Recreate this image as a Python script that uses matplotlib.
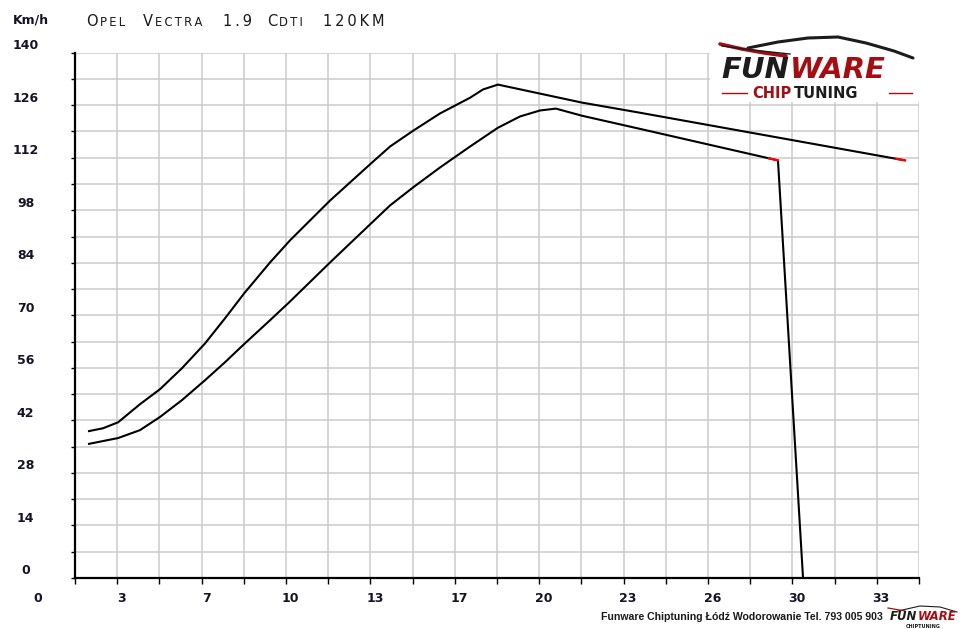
import numpy as np
import matplotlib
matplotlib.use('Agg')
import matplotlib.pyplot as plt
import matplotlib.transforms as mtransforms
from matplotlib.patches import Rectangle
from matplotlib.lines import Line2D
from matplotlib.text import Annotation

title_words = ['OPEL', 'VECTRA', '1.9', 'CDTI', '120KM']
title_word_px = [86, 143, 223, 267, 323]
y_unit = 'Km/h'
footer = 'Funware Chiptuning Łódź Wodorowanie Tel. 793 005 903'

# axis layout (grid every 5/3 s and every 7 km/h)
x_min, x_max, x_step = 5 / 3, 35.0, 5 / 3
y_max, y_step = 140, 7
x_label_pos = [0, 10 / 3, 20 / 3, 10, 40 / 3, 50 / 3, 20, 70 / 3, 80 / 3, 30, 100 / 3]
x_labels = ['0', '3', '7', '10', '13', '17', '20', '23', '26', '30', '33']
y_labels = [0, 14, 28, 42, 56, 70, 84, 98, 112, 126, 140]

# curve A (upper)
upper_x = [2.18, 2.77, 3.37, 4.23, 5.02, 5.89, 6.80, 7.59, 8.34, 9.37, 10.16,
           11.74, 13.36, 14.11, 15.02, 16.08, 17.27, 17.78, 18.37, 20.03, 21.69,
           23.98, 34.45]
upper_kmh = [39.1, 39.9, 41.5, 46.3, 50.3, 55.9, 62.5, 69.2, 75.8, 84.1, 90.0,
             100.6, 110.5, 115.0, 119.2, 123.8, 128.0, 130.2, 131.5, 129.1, 126.7,
             124.0, 111.3]

# curve B (lower), ends with the drop to zero
lower_x = [2.18, 3.37, 4.23, 5.02, 5.89, 6.80, 7.59, 8.34, 9.37, 10.16, 11.74,
           13.36, 14.11, 15.02, 16.08, 17.27, 18.37, 19.24, 20.03, 20.66, 21.69,
           23.98, 29.43, 30.42]
lower_kmh = [35.7, 37.3, 39.4, 42.9, 47.4, 52.7, 57.5, 62.3, 68.7, 73.7, 84.1,
             94.5, 99.3, 104.1, 109.4, 115.0, 120.0, 123.0, 124.6, 125.1, 123.2,
             119.7, 111.3, 0.0]

W, H = 960, 629
fig = plt.figure(figsize=(W / 100, H / 100), dpi=100)
fig.patch.set_facecolor('white')


def px(x, y):
    return x / W, 1 - y / H


def after(prev, text, gap=1.5, **kw):
    # text placed right after another text artist, bottoms aligned
    a = Annotation(text, xy=(1.0, 0.0), xycoords=prev, xytext=(gap, 0),
                   textcoords='offset points', ha='left', va='bottom',
                   annotation_clip=False, **kw)
    fig.add_artist(a)
    a.set_zorder(3)
    return a


ax = fig.add_axes([75 / W, 1 - 578 / H, (919 - 75) / W, (578 - 52.7) / H])
ax.set_xlim(x_min, x_max)
ax.set_ylim(0, y_max)

ax.set_xticks(np.arange(x_min, x_max + 0.01, x_step))
ax.set_yticks(np.arange(0, y_max + 0.1, y_step))
ax.grid(True, color='#cccccc', lw=1.1)
ax.set_axisbelow(True)
ax.tick_params(axis='x', direction='out', length=4, width=1, color='black', labelbottom=False)
ax.tick_params(axis='y', direction='out', length=3, width=1, color='black', labelleft=False)
for s in ['top', 'right']:
    ax.spines[s].set_visible(False)
for s in ['left', 'bottom']:
    ax.spines[s].set_linewidth(1.6)
    ax.spines[s].set_color('black')

ax.plot(upper_x, upper_kmh, color='black', lw=1.5, solid_capstyle='butt', zorder=3)
ax.plot(lower_x, lower_kmh, color='black', lw=1.5, solid_capstyle='butt', zorder=3)


# red tips at the end of the sloping parts
def red_tip(xs, ys, i, dx=0.35):
    x1 = xs[i]
    x0 = x1 - dx
    y0 = np.interp(x0, [xs[i - 1], xs[i]], [ys[i - 1], ys[i]])
    ax.plot([x0, x1], [y0, ys[i]], color='red', lw=1.6, zorder=4)


red_tip(upper_x, upper_kmh, len(upper_x) - 1)
red_tip(lower_x, lower_kmh, len(lower_x) - 2)

lab_color = '#141428'
tx = mtransforms.blended_transform_factory(
    mtransforms.offset_copy(ax.transData, fig=fig, x=4.5, units='dots'),
    mtransforms.offset_copy(ax.transAxes, fig=fig, y=-21, units='dots'))
for p, t in zip(x_label_pos, x_labels):
    ax.text(p, 0, t, transform=tx, ha='center', va='center', fontsize=9,
            fontweight='bold', color=lab_color, clip_on=False)

ty = mtransforms.blended_transform_factory(
    fig.transFigure, mtransforms.offset_copy(ax.transData, fig=fig, y=7, units='dots'))
for v in y_labels:
    fig.text(25.5 / W, v, str(v), transform=ty, ha='center', va='center',
             fontsize=9, fontweight='bold', color=lab_color)

fig.text(*px(13, 20), y_unit, ha='left', va='center', fontsize=9,
         fontweight='bold', color=lab_color)

# title in small caps style
for word, xp in zip(title_words, title_word_px):
    if word.isalpha():
        first = fig.text(*px(xp, 29), word[0], ha='left', va='bottom',
                         fontsize=10.5, color='#1a1a1a')
        after(first, '\u2009'.join(word[1:]), fontsize=8.3, color='#1a1a1a')
    else:
        fig.text(*px(xp, 29), '\u2009'.join(word), ha='left', va='bottom',
                 fontsize=10.5, color='#1a1a1a')

fig.text(*px(883, 617), footer, ha='right', va='center', fontsize=7.6,
         fontweight='bold', family='Liberation Sans', color='#1a1a1a')

# logo (top right) on a white box that hides the grid
fig.add_artist(Rectangle(px(710, 102), 212 / W, 69 / H, transform=fig.transFigure,
                         facecolor='white', edgecolor='none', zorder=1))
dark = '#1c1c1c'
red = '#a50d12'
fun = fig.text(*px(721, 84), 'FUN', ha='left', va='bottom', fontsize=21,
               fontweight='bold', style='italic', color=dark)
after(fun, 'WARE', gap=1, fontsize=21, fontweight='bold', style='italic', color=red)
chip = fig.text(*px(752, 101), 'CHIP', ha='left', va='bottom', fontsize=10.5,
                fontweight='bold', color=red)
after(chip, 'TUNING', gap=2, fontsize=10.5, fontweight='bold', color=dark)


def fig_line(pts, **kw):
    xs = [p[0] / W for p in pts]
    ys = [1 - p[1] / H for p in pts]
    fig.add_artist(Line2D(xs, ys, transform=fig.transFigure, zorder=2, **kw))


fig_line([(748, 48), (778, 42), (808, 38), (838, 37), (866, 43), (894, 51), (913, 58)],
         color=dark, lw=2.2, solid_capstyle='round')
fig_line([(720, 44), (742, 49), (765, 53), (786, 56)], color=red, lw=2.6,
         solid_capstyle='round')
fig_line([(722, 46), (752, 50), (790, 54)], color=dark, lw=1.0)
fig_line([(722, 93), (747, 93)], color=red, lw=1.0)
fig_line([(889, 93), (912, 93)], color=red, lw=1.0)

# small footer logo
sfun = fig.text(*px(890, 623), 'FUN', ha='left', va='bottom', fontsize=8.5,
                fontweight='bold', style='italic', color=dark)
after(sfun, 'WARE', gap=0.5, fontsize=8.5, fontweight='bold', style='italic', color=red)
fig.text(*px(923, 624), 'CHIPTUNING', ha='center', va='top', fontsize=3.5,
         fontweight='bold', color=dark)
fig_line([(898, 611), (920, 606), (940, 607), (957, 612)], color=dark, lw=0.8)
fig_line([(888, 608), (905, 611)], color=red, lw=0.9)

fig.savefig('out.png', dpi=100, facecolor='white')
